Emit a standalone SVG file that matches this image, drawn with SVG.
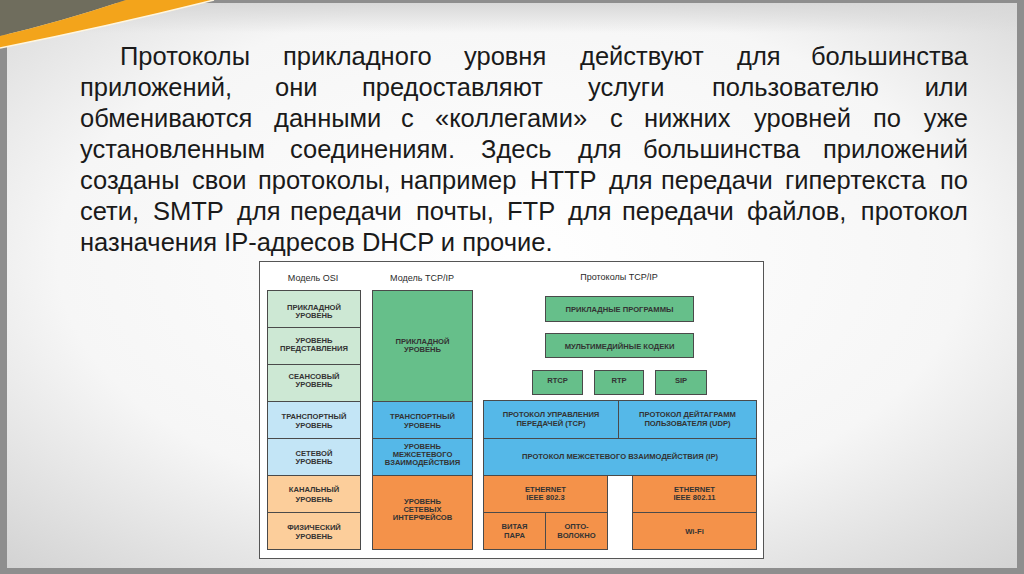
<svg xmlns="http://www.w3.org/2000/svg" width="1024" height="574" viewBox="0 0 1024 574">
<defs>
<radialGradient id="bg" cx="0.5" cy="0.45" r="0.75">
<stop offset="0" stop-color="#ffffff"/>
<stop offset="0.6" stop-color="#f6f6f6"/>
<stop offset="1" stop-color="#d2d2d2"/>
</radialGradient>
<linearGradient id="topband" x1="0" y1="0" x2="0" y2="1">
<stop offset="0" stop-color="#d8d8d8"/>
<stop offset="1" stop-color="#d8d8d8" stop-opacity="0"/>
</linearGradient>
<style>
.para{font-family:"Liberation Sans",Arial,sans-serif;font-size:25.5px;fill:#1a1a1a}
.e{text-anchor:end}
.lbl{font-family:"Liberation Sans",Arial,sans-serif;font-size:7.6px;font-weight:bold;fill:#333333;text-anchor:middle}
.ttl{font-family:"Liberation Sans",Arial,sans-serif;font-size:9px;fill:#2a2a2a;text-anchor:middle}
.b{stroke:#4a4a4a;stroke-width:1}
.g1{fill:#cde8d4}.g2{fill:#66bf8a}
.c1{fill:#c3e5f6}.c2{fill:#55b8e8}
.o1{fill:#fcce9b}.o2{fill:#f4924a}
</style>
</defs>
<!-- slide background -->
<rect x="0" y="0" width="1024" height="574" fill="#8e8e8e"/>
<rect x="7" y="3" width="1010" height="565" fill="url(#bg)"/>
<rect x="7" y="3" width="1010" height="30" fill="url(#topband)"/>
<path d="M0,0 L126,0 Q60,22 0,36 Z" fill="#6f6d5d"/>
<path d="M126,0 L214,0 Q110,26 0,48 L0,36 Q60,22 126,0 Z" fill="#f3a41b"/>
<path d="M214,0 Q110,26 0,48" fill="none" stroke="#fff6e0" stroke-width="1.5"/>

<!-- paragraph -->
<g id="paragraph" class="para">
<text x="120" y="65">Протоколы</text>
<text x="283" y="65">прикладного</text>
<text x="464" y="65">уровня</text>
<text x="580" y="65">действуют</text>
<text x="737" y="65">для</text>
<text x="968" y="65" class="e">большинства</text>

<text x="80" y="96">приложений,</text>
<text x="275" y="96">они</text>
<text x="362" y="96">предоставляют</text>
<text x="588" y="96">услуги</text>
<text x="712" y="96">пользователю</text>
<text x="968" y="96" class="e">или</text>

<text x="80" y="127">обмениваются</text>
<text x="274" y="127">данными</text>
<text x="401" y="127">с</text>
<text x="435" y="127">«коллегами»</text>
<text x="610" y="127">с</text>
<text x="644" y="127">нижних</text>
<text x="754" y="127">уровней</text>
<text x="873" y="127">по</text>
<text x="968" y="127" class="e">уже</text>

<text x="80" y="158">установленным</text>
<text x="290" y="158">соединениям.</text>
<text x="481" y="158">Здесь</text>
<text x="578" y="158">для</text>
<text x="643" y="158">большинства</text>
<text x="968" y="158" class="e">приложений</text>

<text x="80" y="189">созданы</text>
<text x="192" y="189">свои</text>
<text x="258" y="189">протоколы,</text>
<text x="400" y="189">например</text>
<text x="530" y="189">HTTP</text>
<text x="609" y="189">для</text>
<text x="661" y="189">передачи</text>
<text x="785" y="189">гипертекста</text>
<text x="968" y="189" class="e">по</text>

<text x="80" y="220">сети,</text>
<text x="153" y="220">SMTP</text>
<text x="237" y="220">для</text>
<text x="290" y="220">передачи</text>
<text x="416" y="220">почты,</text>
<text x="507" y="220">FTP</text>
<text x="568" y="220">для</text>
<text x="622" y="220">передачи</text>
<text x="747" y="220">файлов,</text>
<text x="968" y="220" class="e">протокол</text>

<text x="80" y="251">назначения IP-адресов DHCP и прочие.</text>
</g>

<!-- diagram frame -->
<rect x="259.5" y="261.5" width="504" height="297" fill="#ffffff" stroke="#555555" stroke-width="1"/>
<text class="ttl" x="313" y="280.5">Модель OSI</text>
<text class="ttl" x="422" y="280.5">Модель TCP/IP</text>
<text class="ttl" x="619" y="279.5">Протоколы TCP/IP</text>

<!-- OSI column -->
<g id="osi-app"><rect class="b g1" x="267.5" y="290.5" width="93" height="37"/>
<text class="lbl" x="314" y="310">ПРИКЛАДНОЙ</text><text class="lbl" x="314" y="317.5">УРОВЕНЬ</text></g>
<g id="osi-pres"><rect class="b g1" x="267.5" y="327.5" width="93" height="37"/>
<text class="lbl" x="314" y="342.5">УРОВЕНЬ</text><text class="lbl" x="314" y="350.8">ПРЕДСТАВЛЕНИЯ</text></g>
<g id="osi-sess"><rect class="b g1" x="267.5" y="364.5" width="93" height="37"/>
<text class="lbl" x="314" y="379">СЕАНСОВЫЙ</text><text class="lbl" x="314" y="386.8">УРОВЕНЬ</text></g>
<g id="osi-trans"><rect class="b c1" x="267.5" y="401.5" width="93" height="37"/>
<text class="lbl" x="314" y="418.5">ТРАНСПОРТНЫЙ</text><text class="lbl" x="314" y="427.7">УРОВЕНЬ</text></g>
<g id="osi-net"><rect class="b c1" x="267.5" y="438.5" width="93" height="37"/>
<text class="lbl" x="314" y="455.5">СЕТЕВОЙ</text><text class="lbl" x="314" y="464.4">УРОВЕНЬ</text></g>
<g id="osi-link"><rect class="b o1" x="267.5" y="475.5" width="93" height="37"/>
<text class="lbl" x="314" y="492">КАНАЛЬНЫЙ</text><text class="lbl" x="314" y="501.7">УРОВЕНЬ</text></g>
<g id="osi-phys"><rect class="b o1" x="267.5" y="512.5" width="93" height="37"/>
<text class="lbl" x="314" y="529.5">ФИЗИЧЕСКИЙ</text><text class="lbl" x="314" y="538.7">УРОВЕНЬ</text></g>

<!-- TCP/IP model column -->
<g id="tcp-app"><rect class="b g2" x="372.5" y="290.5" width="100" height="111"/>
<text class="lbl" x="422.5" y="344">ПРИКЛАДНОЙ</text><text class="lbl" x="422.5" y="351.5">УРОВЕНЬ</text></g>
<g id="tcp-trans"><rect class="b c2" x="372.5" y="401.5" width="100" height="37"/>
<text class="lbl" x="422.5" y="418.5">ТРАНСПОРТНЫЙ</text><text class="lbl" x="422.5" y="427.7">УРОВЕНЬ</text></g>
<g id="tcp-inet"><rect class="b c2" x="372.5" y="438.5" width="100" height="37"/>
<text class="lbl" x="422.5" y="448.7">УРОВЕНЬ</text><text class="lbl" x="422.5" y="456.7">МЕЖСЕТЕВОГО</text><text class="lbl" x="422.5" y="465">ВЗАИМОДЕЙСТВИЯ</text></g>
<g id="tcp-netif"><rect class="b o2" x="372.5" y="475.5" width="100" height="74"/>
<text class="lbl" x="422.5" y="504.4">УРОВЕНЬ</text><text class="lbl" x="422.5" y="512">СЕТЕВЫХ</text><text class="lbl" x="422.5" y="520">ИНТЕРФЕЙСОВ</text></g>

<!-- Protocols column -->
<g id="apps"><rect class="b g2" x="545.5" y="296.5" width="148" height="25"/>
<text class="lbl" x="619.5" y="311.7">ПРИКЛАДНЫЕ ПРОГРАММЫ</text></g>
<g id="codecs"><rect class="b g2" x="545.5" y="333.5" width="148" height="24"/>
<text class="lbl" x="619.5" y="349">МУЛЬТИМЕДИЙНЫЕ КОДЕКИ</text></g>
<g id="rtcp"><rect class="b g2" x="532.5" y="370.5" width="50" height="24"/>
<text class="lbl" x="557.5" y="383">RTCP</text></g>
<g id="rtp"><rect class="b g2" x="594.5" y="370.5" width="49" height="24"/>
<text class="lbl" x="619" y="383">RTP</text></g>
<g id="sip"><rect class="b g2" x="655.5" y="370.5" width="51" height="24"/>
<text class="lbl" x="681" y="383">SIP</text></g>
<g id="tcp"><rect class="b c2" x="483.5" y="400.5" width="135" height="38"/>
<text class="lbl" x="551" y="416.7">ПРОТОКОЛ УПРАВЛЕНИЯ</text><text class="lbl" x="551" y="426">ПЕРЕДАЧЕЙ (TCP)</text></g>
<g id="udp"><rect class="b c2" x="618.5" y="400.5" width="138" height="38"/>
<text class="lbl" x="687.5" y="416.7">ПРОТОКОЛ ДЕЙТАГРАММ</text><text class="lbl" x="687.5" y="426">ПОЛЬЗОВАТЕЛЯ (UDP)</text></g>
<g id="ip"><rect class="b c2" x="483.5" y="438.5" width="273" height="37"/>
<text class="lbl" x="620" y="459.4">ПРОТОКОЛ МЕЖСЕТЕВОГО ВЗАИМОДЕЙСТВИЯ (IP)</text></g>
<g id="eth3"><rect class="b o2" x="483.5" y="475.5" width="124" height="37"/>
<text class="lbl" x="545.5" y="491.7">ETHERNET</text><text class="lbl" x="545.5" y="500.4">IEEE 802.3</text></g>
<g id="twisted"><rect class="b o2" x="483.5" y="512.5" width="62" height="37"/>
<text class="lbl" x="514.5" y="528.7">ВИТАЯ</text><text class="lbl" x="514.5" y="537.7">ПАРА</text></g>
<g id="fiber"><rect class="b o2" x="545.5" y="512.5" width="62" height="37"/>
<text class="lbl" x="576.5" y="528.7">ОПТО-</text><text class="lbl" x="576.5" y="537.7">ВОЛОКНО</text></g>
<g id="eth11"><rect class="b o2" x="632.5" y="475.5" width="124" height="37"/>
<text class="lbl" x="694.5" y="491.7">ETHERNET</text><text class="lbl" x="694.5" y="500.4">IEEE 802.11</text></g>
<g id="wifi"><rect class="b o2" x="632.5" y="512.5" width="124" height="37"/>
<text class="lbl" x="694.5" y="533.7">Wi-Fi</text></g>
<g id="connectors"></g>
</svg>
